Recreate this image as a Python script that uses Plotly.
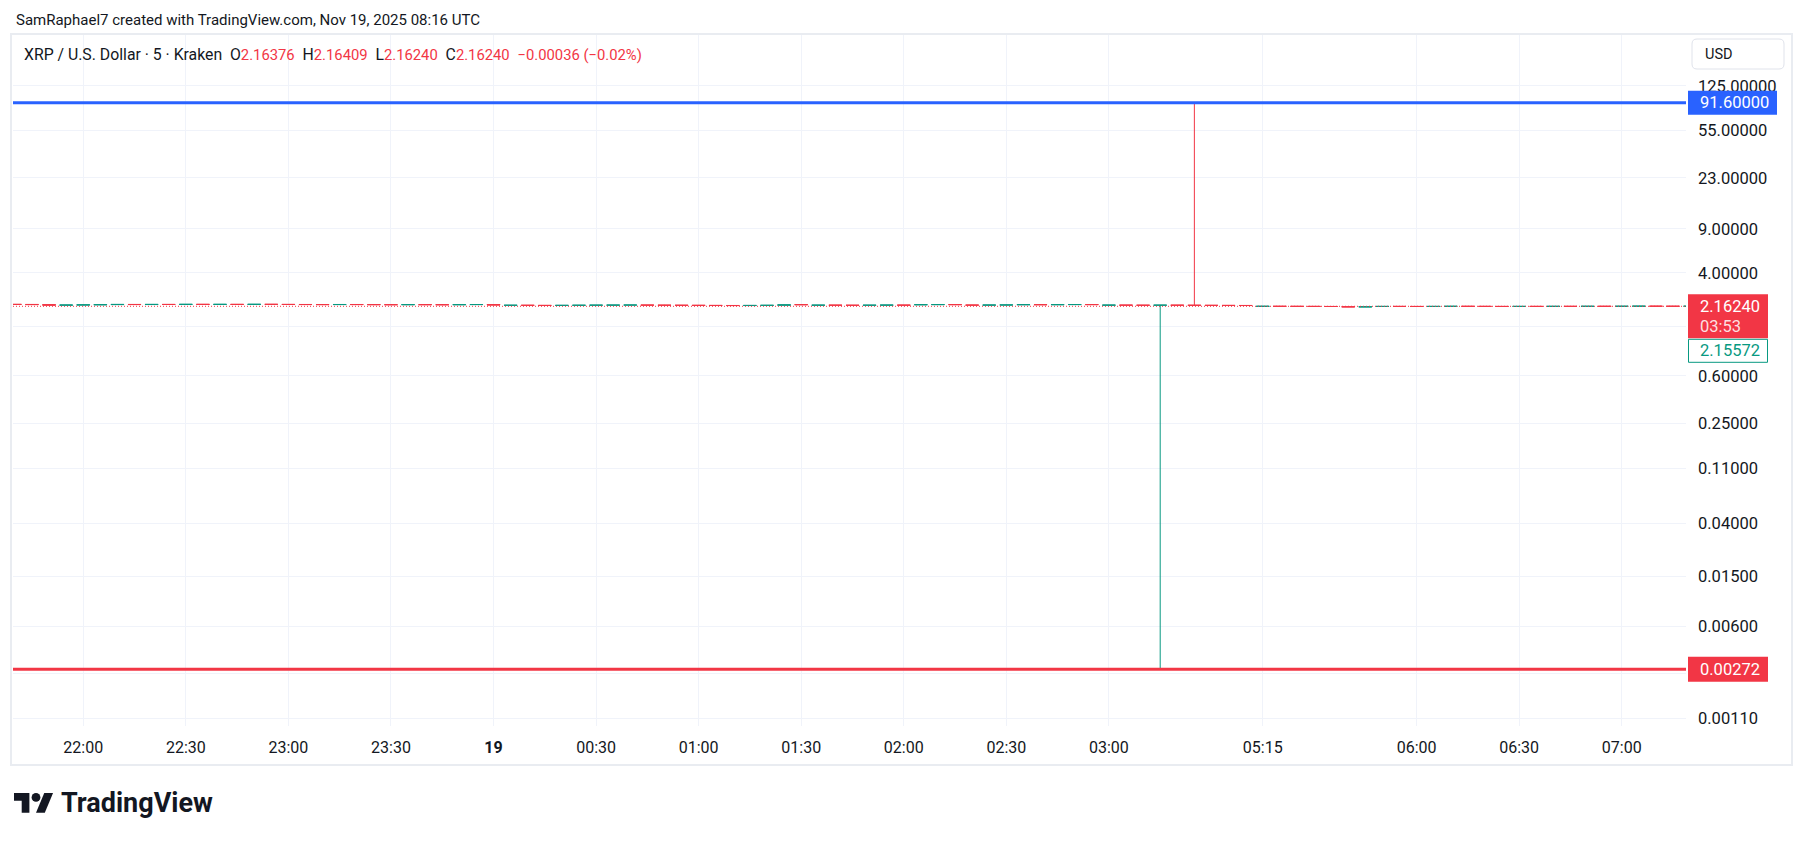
import math
import plotly.graph_objects as go

# ---------------- data ----------------
times = ["21:40","21:45","21:50","21:55","22:00","22:05","22:10","22:15","22:20","22:25",
         "22:30","22:35","22:40","22:45","22:50","22:55","23:00","23:05","23:10","23:15",
         "23:20","23:25","23:30","23:35","23:40","23:45","23:50","23:55","00:00","00:05",
         "00:10","00:15","00:20","00:25","00:30","00:35","00:40","00:45","00:50","00:55",
         "01:00","01:05","01:10","01:15","01:20","01:25","01:30","01:35","01:40","01:45",
         "01:50","01:55","02:00","02:05","02:10","02:15","02:20","02:25","02:30","02:35",
         "02:40","02:45","02:50","02:55","03:00","03:05","03:10","03:15","03:20","03:25",
         "03:30","03:35","03:40","05:15","05:20","05:25","05:30","05:35","05:40","05:45",
         "05:50","05:55","06:00","06:05","06:10","06:15","06:20","06:25","06:30","06:35",
         "06:40","06:45","06:50","06:55","07:00","07:05","07:10","07:15","07:20"]

opens = [2.2418,2.2380,2.2315,2.2088,2.2141,2.2205,2.2296,2.2380,2.2332,2.2395,
         2.2360,2.2431,2.2388,2.2422,2.2379,2.2440,2.2408,2.2366,2.2330,2.2301,
         2.2355,2.2319,2.2284,2.2256,2.2310,2.2275,2.2248,2.2301,2.2338,2.2010,
         2.2060,2.2004,2.1960,2.2016,2.2052,2.2088,2.2110,2.2136,2.2095,2.2055,
         2.2022,2.1990,2.1955,2.1925,2.1978,2.2030,2.2330,2.2050,2.2098,2.2062,
         2.2030,2.2078,2.2118,2.2230,2.2285,2.2326,2.2140,2.2096,2.2138,2.2250,
         2.2298,2.2262,2.2306,2.2345,2.2060,2.2110,2.2075,2.2044,2.2090,2.2052,
         2.2025,2.1995,2.1966,2.1590,2.1636,2.1612,2.1594,2.1572,2.1480,2.1365,
         2.1540,2.1592,2.1571,2.1553,2.1590,2.1628,2.1602,2.1583,2.1561,2.1598,
         2.1579,2.1614,2.1597,2.1633,2.1611,2.1648,2.1679,2.1652,2.1634]

highs = [2.2436,2.2395,2.2330,2.2164,2.2230,2.2318,2.2405,2.2398,2.2411,2.2420,
         2.2448,2.2445,2.2440,2.2436,2.2455,2.2462,2.2420,2.2380,2.2342,2.2370,
         2.2366,2.2330,2.2300,2.2322,2.2325,2.2290,2.2315,2.2352,2.2350,2.2072,
         2.2075,2.2018,2.2030,2.2068,2.2101,2.2125,2.2150,2.2148,2.2210,2.2068,
         2.2035,2.2001,2.1968,2.1990,2.2110,2.2215,2.2345,2.2110,2.2110,2.2075,
         2.2090,2.2130,2.2130,2.2300,2.2340,2.2338,2.2155,2.2150,2.2240,2.2310,
         2.2310,2.2320,2.2360,2.2358,2.2125,2.2122,2.2088,2.2105,2.2101,91.6,
         2.2038,2.2008,2.1980,2.1648,2.1650,2.1625,2.1605,2.1584,2.1495,2.1440,
         2.1605,2.1605,2.1582,2.1600,2.1640,2.1640,2.1612,2.1595,2.1610,2.1610,
         2.1625,2.1626,2.1645,2.1645,2.1660,2.1690,2.1690,2.1664,2.1672]

lows = [2.2371,2.2302,2.2051,2.2040,2.2110,2.2190,2.2281,2.2310,2.2320,2.2341,
        2.2352,2.2370,2.2375,2.2365,2.2370,2.2395,2.2350,2.2318,2.2285,2.2290,
        2.2305,2.2270,2.2241,2.2245,2.2262,2.2230,2.2240,2.2290,2.2120,2.1985,
        2.1990,2.1942,2.1951,2.2005,2.2040,2.2070,2.2098,2.2080,2.2040,2.2010,
        2.1975,2.1940,2.1910,2.1915,2.1880,2.2020,2.2200,2.2040,2.2050,2.2015,
        2.2020,2.2065,2.2060,2.2220,2.2270,2.2270,2.2080,2.2085,2.2090,2.2240,
        2.2250,2.2252,2.2295,2.2280,2.2050,2.2060,2.2030,0.00272,2.2040,2.2010,
        2.1980,2.1950,2.1920,2.1580,2.1598,2.1580,2.1560,2.1530,2.1340,2.1350,
        2.1530,2.1560,2.1540,2.1545,2.1580,2.1590,2.1570,2.1550,2.1552,2.1566,
        2.1570,2.1585,2.1590,2.1600,2.1602,2.1640,2.1640,2.1620,2.1625]

closes = [2.2380,2.2315,2.2088,2.2141,2.2205,2.2296,2.2380,2.2332,2.2395,2.2360,
          2.2431,2.2388,2.2422,2.2379,2.2440,2.2408,2.2366,2.2330,2.2301,2.2355,
          2.2319,2.2284,2.2256,2.2310,2.2275,2.2248,2.2301,2.2338,2.2135,2.2060,
          2.2004,2.1960,2.2016,2.2052,2.2088,2.2110,2.2136,2.2095,2.2055,2.2022,
          2.1990,2.1955,2.1925,2.1978,2.2030,2.2210,2.2255,2.2098,2.2062,2.2030,
          2.2078,2.2118,2.2075,2.2285,2.2326,2.2284,2.2096,2.2138,2.2170,2.2298,
          2.2262,2.2306,2.2345,2.2298,2.2110,2.2075,2.2044,2.2090,2.2052,2.2025,
          2.1995,2.1966,2.1938,2.1636,2.1612,2.1594,2.1572,2.1545,2.1365,2.1425,
          2.1592,2.1571,2.1553,2.1590,2.1628,2.1602,2.1583,2.1561,2.1598,2.1579,
          2.1614,2.1597,2.1633,2.1611,2.1648,2.1679,2.1652,2.1634,2.1660]

tick_times = ["22:00","22:30","23:00","23:30","00:00","00:30","01:00","01:30",
              "02:00","02:30","03:00","05:15","06:00","06:30","07:00"]
tick_labels = ["22:00","22:30","23:00","23:30","<b>19</b>","00:30","01:00","01:30",
               "02:00","02:30","03:00","05:15","06:00","06:30","07:00"]

price_ticks = [125, 55, 23, 9, 4, 1.5, 0.6, 0.25, 0.11, 0.04, 0.015, 0.006, 0.0025, 0.0011]
price_tick_labels = ["125.00000","55.00000","23.00000","9.00000","4.00000","",
                     "0.60000","0.25000","0.11000","0.04000","0.01500","0.00600","",
                     "0.00110"]

high_line = 91.6
low_line = 0.00272
last_price = 2.1624
prev_price = 2.15572
countdown = "03:53"

hdr_symbol = "XRP / U.S. Dollar · 5 · Kraken"
hdr_o, hdr_h, hdr_l, hdr_c = "2.16376", "2.16409", "2.16240", "2.16240"
hdr_chg = "−0.00036 (−0.02%)"
author_line = "SamRaphael7 created with TradingView.com, Nov 19, 2025 08:16 UTC"

# ---------------- layout helpers ----------------
W, H = 1805, 841
L, R, T, B = 13, 1686, 34, 726
Y_RANGE = [-3.020, 2.5116]   # log10 range of the price axis

def fx(p):
    return (p - L) / (R - L)
def fy(p):
    return (B - p) / (B - T)
def vp(v, dpx=0.0):
    """paper y of a price value on the log axis, shifted by dpx pixels (up = +)"""
    return (math.log10(v) - Y_RANGE[0]) / (Y_RANGE[1] - Y_RANGE[0]) + dpx / (B - T)

UP = "#089981"
DN = "#F23645"
BLUE = "#2962FF"
TXT = "#131722"
GRID = "#F0F3FA"
FONT = "Roboto"

fig = go.Figure()
fig.add_trace(go.Candlestick(
    x=times, open=opens, high=highs, low=lows, close=closes,
    increasing=dict(line=dict(color=UP, width=1), fillcolor=UP),
    decreasing=dict(line=dict(color=DN, width=1), fillcolor=DN),
    whiskerwidth=0, showlegend=False, hoverinfo="skip",
))

shapes = []
# outer frame
shapes.append(dict(type="rect", xref="paper", yref="paper",
                   x0=fx(11), x1=fx(1792), y0=fy(34), y1=fy(765),
                   line=dict(color="#E9ECF1", width=2), fillcolor="rgba(0,0,0,0)", layer="above"))
# USD button
bx0, bx1, by0, by1, rr = 1692, 1784, 39, 69, 5
path = (f"M{fx(bx0+rr)},{fy(by0)} L{fx(bx1-rr)},{fy(by0)} Q{fx(bx1)},{fy(by0)} {fx(bx1)},{fy(by0+rr)} "
        f"L{fx(bx1)},{fy(by1-rr)} Q{fx(bx1)},{fy(by1)} {fx(bx1-rr)},{fy(by1)} "
        f"L{fx(bx0+rr)},{fy(by1)} Q{fx(bx0)},{fy(by1)} {fx(bx0)},{fy(by1-rr)} "
        f"L{fx(bx0)},{fy(by0+rr)} Q{fx(bx0)},{fy(by0)} {fx(bx0+rr)},{fy(by0)} Z")
shapes.append(dict(type="path", xref="paper", yref="paper", path=path,
                   line=dict(color="#E0E3EB", width=1), fillcolor="white", layer="above"))

# horizontal drawings
shapes.append(dict(type="line", xref="paper", yref="y", x0=0, x1=1, y0=high_line, y1=high_line,
                   line=dict(color=BLUE, width=3), layer="above"))
shapes.append(dict(type="line", xref="paper", yref="y", x0=0, x1=1, y0=low_line, y1=low_line,
                   line=dict(color=DN, width=3), layer="above"))
shapes.append(dict(type="line", xref="paper", yref="y", x0=0, x1=1, y0=last_price, y1=last_price,
                   line=dict(color=DN, width=1, dash="1px,2px"), layer="above"))

# price-axis labels (boxes)
lx0 = fx(1688)
shapes.append(dict(type="rect", xref="paper", yref="paper",
                   x0=lx0, x1=fx(1777), y0=vp(high_line, -12), y1=vp(high_line, 12),
                   fillcolor=BLUE, line=dict(width=0), layer="above"))
shapes.append(dict(type="rect", xref="paper", yref="paper",
                   x0=lx0, x1=fx(1768), y0=vp(last_price, -32), y1=vp(last_price, 12),
                   fillcolor=DN, line=dict(width=0), layer="above"))
shapes.append(dict(type="rect", xref="paper", yref="paper",
                   x0=fx(1688.5), x1=fx(1767.5), y0=vp(last_price, -56), y1=vp(last_price, -33),
                   fillcolor="white", line=dict(color=UP, width=1), layer="above"))
shapes.append(dict(type="rect", xref="paper", yref="paper",
                   x0=lx0, x1=fx(1768), y0=vp(low_line, -12.5), y1=vp(low_line, 12.5),
                   fillcolor=DN, line=dict(width=0), layer="above"))

# TradingView logo
def lp(u, v):
    return fx(14 + u * 1.1), fy(793 + (v - 4) * 1.1)
def poly(pts):
    s = ""
    for k, (u, v) in enumerate(pts):
        X, Y = lp(u, v)
        s += ("M" if k == 0 else "L") + f"{X},{Y} "
    return s + "Z"
shapes.append(dict(type="path", xref="paper", yref="paper",
                   path=poly([(14, 22), (7, 22), (7, 11), (0, 11), (0, 4), (14, 4)]),
                   fillcolor=TXT, line=dict(width=0), layer="above"))
shapes.append(dict(type="path", xref="paper", yref="paper",
                   path=poly([(28, 22), (20, 22), (27.5, 4), (35.5, 4)]),
                   fillcolor=TXT, line=dict(width=0), layer="above"))
cx0, cy0 = lp(16, 4)
cx1, cy1 = lp(24, 12)
shapes.append(dict(type="circle", xref="paper", yref="paper", x0=cx0, x1=cx1, y0=cy0, y1=cy1,
                   fillcolor=TXT, line=dict(width=0), layer="above"))

annotations = []
def ann(text, x, y, size=16, color=TXT, xanchor="left", yshift=0):
    annotations.append(dict(text=text, x=x, y=y, xref="paper", yref="paper", showarrow=False,
                            xanchor=xanchor, yanchor="middle", yshift=yshift,
                            font=dict(family=FONT, size=size, color=color)))

ann(author_line, fx(14), fy(19.5), size=15)
red = lambda s: f"<span style='color:{DN};font-size:14.8px'>{s}</span>"
sp = "\u00a0"
hdr = (hdr_symbol + sp * 2 + "O" + red(hdr_o) + sp * 2 + "H" + red(hdr_h) + sp * 2 +
       "L" + red(hdr_l) + sp * 2 + "C" + red(hdr_c) + sp * 2 + red(hdr_chg))
ann(hdr, fx(22), fy(54), size=15.8)
ann("USD", fx(1703), fy(54), size=14.5)

ann(f"{high_line:.5f}", fx(1698), vp(high_line), color="white", size=16.5)
ann(f"{last_price:.5f}", fx(1698), vp(last_price), color="white", size=16.5)
ann(countdown, fx(1698), vp(last_price, -20.5), color="rgba(255,255,255,0.85)", size=16.5)
ann(f"{prev_price:.5f}", fx(1698), vp(last_price, -44.5), color=UP, size=16.5)
ann(f"{low_line:.5f}", fx(1698), vp(low_line), color="white", size=16.5)

annotations.append(dict(text="<b>TradingView</b>", x=fx(59), y=fy(803), xref="paper", yref="paper",
                        showarrow=False, xanchor="left", yanchor="middle",
                        font=dict(family=FONT, size=27, color=TXT)))

fig.update_layout(
    width=W, height=H,
    margin=dict(l=L, r=W - R, t=T, b=H - B, pad=0),
    paper_bgcolor="white", plot_bgcolor="white",
    boxgap=0.24, boxgroupgap=0,
    showlegend=False,
    shapes=shapes, annotations=annotations,
    font=dict(family=FONT, size=16, color=TXT),
    xaxis=dict(type="category", range=[-0.11, 97.76], tickmode="array",
               tickvals=tick_times, ticktext=tick_labels, showgrid=True, gridcolor=GRID,
               gridwidth=1, ticks="", showline=False, zeroline=False,
               rangeslider=dict(visible=False), tickfont=dict(family=FONT, size=16, color=TXT),
               ticklabelstandoff=10, fixedrange=True),
    yaxis=dict(type="log", side="right", range=Y_RANGE, tickmode="array",
               tickvals=price_ticks, ticktext=price_tick_labels, showgrid=True, gridcolor=GRID,
               gridwidth=1, ticks="", showline=False, zeroline=False,
               tickfont=dict(family=FONT, size=16.5, color=TXT), ticklabelstandoff=11,
               fixedrange=True),
)

fig.write_html("out.html", config={"displayModeBar": False},
               post_script="document.body.style.margin='0px';document.body.style.overflow='hidden';")
